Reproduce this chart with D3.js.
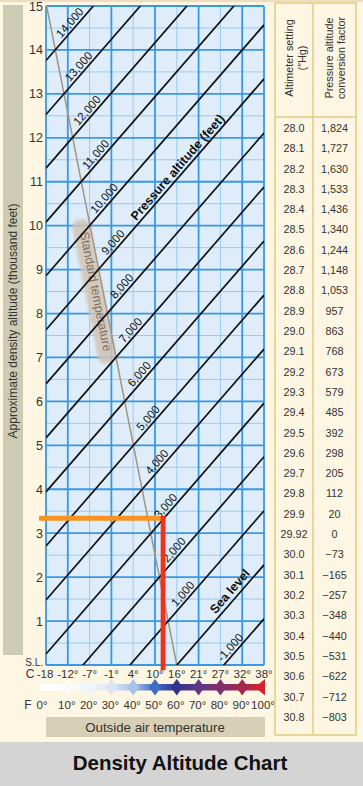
<!DOCTYPE html>
<html>
<head>
<meta charset="utf-8">
<script src="https://cdn.jsdelivr.net/npm/d3@7"></script>
<style>
  body { margin: 0; background: #fdf6e3; }
  svg { display: block; font-family: "Liberation Sans", Arial, sans-serif; }
</style>
</head>
<body>
<div class="d3Chart"></div>
<script>
//#region data

// pressure altitude lines (ft) and the density altitude (thousand ft) where each meets the 0°F and 100°F edges
var pressureAlts = [-1000, 0, 1000, 2000, 3000, 4000, 5000, 6000, 7000, 8000, 9000, 10000, 11000, 12000, 13000, 14000];
var densityAt0F = [-4.66, -3.43, -2.2, -0.97, 0.25, 1.48, 2.71, 3.94, 5.17, 6.4, 7.63, 8.86, 10.08, 11.31, 12.53, 13.76];
var densityAt100F = [1.05, 2.28, 3.51, 4.74, 5.96, 7.19, 8.42, 9.65, 10.88, 12.11, 13.34, 14.57, 15.79, 17.02, 18.24, 19.47];

// standard temperature line, [°F, thousand ft]
var stdTemp = [[60, 0], [0.3, 15]];

// worked example: OAT and resulting density altitude
var exampleOAT = 53.7;
var exampleDA = 3.34;

var altitudeTicks = d3.range(0, 16);
var fahrenheitTicks = [0, 10, 20, 30, 40, 50, 60, 70, 80, 90, 100];
var celsiusLabels = ["-18", "-12°", "-7°", "-1°", "4°", "10°", "16°", "21°", "27°", "32°", "38°"];

// colour of the temperature bar at each °F tick
var barColors = ["#ffffff", "#fbfcfe", "#f1f5fb", "#dbe5f4", "#a9c3ea", "#3f6cc7", "#34338b", "#5e3683", "#7f2f6c", "#a2294b", "#d3242d"];

var altimeterSettings = ["28.0", "28.1", "28.2", "28.3", "28.4", "28.5", "28.6", "28.7", "28.8", "28.9",
  "29.0", "29.1", "29.2", "29.3", "29.4", "29.5", "29.6", "29.7", "29.8", "29.9", "29.92",
  "30.0", "30.1", "30.2", "30.3", "30.4", "30.5", "30.6", "30.7", "30.8"];
var conversionFactors = [1824, 1727, 1630, 1533, 1436, 1340, 1244, 1148, 1053, 957,
  863, 768, 673, 579, 485, 392, 298, 205, 112, 20, 0,
  -73, -165, -257, -348, -440, -531, -622, -712, -803];

//#endregion

//#region canvas

var width = 363;
var height = 786;
var svg = d3
  .select(".d3Chart")
  .append("svg")
  .attr("width", width)
  .attr("height", height)
  .style("background-color", "#fdf6e3");

svg.append("rect").attr("x", 0).attr("y", 0).attr("width", width).attr("height", 2).attr("fill", "#ecdcc0");

var x = d3.scaleLinear().domain([0, 100]).range([46, 264]);
var y = d3.scaleLinear().domain([0, 15]).range([665, 6]);

var defs = svg.append("defs");
defs.append("clipPath").attr("id", "plotClip")
  .append("rect")
  .attr("x", x(0)).attr("y", y(15))
  .attr("width", x(100) - x(0)).attr("height", y(0) - y(15));
defs.append("filter").attr("id", "soft")
  .append("feGaussianBlur").attr("stdDeviation", 1.6);

//#endregion

//#region grid

svg.append("rect")
  .attr("x", x(0)).attr("y", y(15))
  .attr("width", x(100) - x(0)).attr("height", y(0) - y(15))
  .attr("fill", "#deedf9");

var grid = svg.append("g");
var minorColor = "#9bcbf0";
var majorColor = "#3799e4";

grid.selectAll(".hminor").data(d3.range(0.5, 15, 1)).enter().append("line")
  .attr("x1", x(0)).attr("x2", x(100))
  .attr("y1", (d) => y(d)).attr("y2", (d) => y(d))
  .attr("stroke", minorColor).attr("stroke-width", 1);
grid.selectAll(".vminor").data([20, 40, 60, 80]).enter().append("line")
  .attr("x1", (d) => x(d)).attr("x2", (d) => x(d))
  .attr("y1", y(0)).attr("y2", y(15))
  .attr("stroke", minorColor).attr("stroke-width", 1);
grid.selectAll(".hmajor").data(altitudeTicks).enter().append("line")
  .attr("x1", x(0)).attr("x2", x(100))
  .attr("y1", (d) => y(d)).attr("y2", (d) => y(d))
  .attr("stroke", majorColor).attr("stroke-width", 1.8);
grid.selectAll(".vmajor").data([0, 10, 30, 50, 70, 90, 100]).enter().append("line")
  .attr("x1", (d) => x(d)).attr("x2", (d) => x(d))
  .attr("y1", y(0)).attr("y2", y(15))
  .attr("stroke", majorColor).attr("stroke-width", 1.8);

//#endregion

//#region standard temperature

var stdAngle = Math.atan2(y(stdTemp[1][1]) - y(stdTemp[0][1]), x(stdTemp[1][0]) - x(stdTemp[0][0])) * 180 / Math.PI + 180;
var stdAt = function (alt) {
  var t = stdTemp[0][0] + (stdTemp[1][0] - stdTemp[0][0]) * (alt - stdTemp[0][1]) / (stdTemp[1][1] - stdTemp[0][1]);
  return [x(t), y(alt)];
};
var stdLabelPos = stdAt(8.5);

svg.append("rect")
  .attr("x", -73).attr("y", -9).attr("width", 146).attr("height", 18).attr("rx", 6)
  .attr("fill", "#d0c4b5").attr("opacity", 0.85)
  .attr("filter", "url(#soft)")
  .attr("transform", `translate(${stdLabelPos[0] - 9},${stdLabelPos[1]}) rotate(${stdAngle})`);

svg.append("text")
  .text("Standard temperature")
  .attr("text-anchor", "middle").attr("dy", "0.35em")
  .attr("font-size", 12.5).attr("fill", "#86705d")
  .attr("transform", `translate(${stdLabelPos[0] - 7},${stdLabelPos[1]}) rotate(${stdAngle})`);

svg.append("line")
  .attr("x1", x(stdTemp[0][0])).attr("y1", y(stdTemp[0][1]))
  .attr("x2", x(stdTemp[1][0])).attr("y2", y(stdTemp[1][1]))
  .attr("stroke", "#a39483").attr("stroke-width", 1.5);

//#endregion

//#region pressure altitude lines

var lineData = pressureAlts.map((p, i) => ({ p: p, d0: densityAt0F[i], d100: densityAt100F[i] }));

svg.append("g").attr("clip-path", "url(#plotClip)")
  .selectAll("line").data(lineData).enter().append("line")
  .attr("x1", x(0)).attr("y1", (d) => y(d.d0))
  .attr("x2", x(100)).attr("y2", (d) => y(d.d100))
  .attr("stroke", "#111").attr("stroke-width", 1.7);

// point on a pressure line at a given density altitude, pushed off the line by `off` px
function onLine(d, da, off) {
  var t = (da - d.d0) / (d.d100 - d.d0) * 100;
  var px = x(t), py = y(da);
  var ang = Math.atan2(y(d.d100) - y(d.d0), x(100) - x(0));
  return {
    x: px + Math.sin(ang) * off,
    y: py - Math.cos(ang) * off,
    angle: ang * 180 / Math.PI,
  };
}

svg.append("g").selectAll("text")
  .data(lineData.filter((d) => d.p !== 0)).enter().append("text")
  .text((d) => d3.format(",")(d.p).replace("−", "-"))
  .attr("text-anchor", "middle").attr("dy", "0.35em")
  .attr("font-size", 11.5).attr("fill", "#111")
  .attr("transform", (d) => {
    var pos = onLine(d, Math.max(d.p / 1000 + 0.52, 0.3), 7);
    return `translate(${pos.x},${pos.y}) rotate(${pos.angle})`;
  });

var seaPos = onLine(lineData[1], 1.55, 8.5);
svg.append("text").text("Sea level")
  .attr("text-anchor", "middle").attr("dy", "0.35em")
  .attr("font-size", 12.5).attr("font-weight", "bold").attr("fill", "#111")
  .attr("transform", `translate(${seaPos.x},${seaPos.y}) rotate(${seaPos.angle})`);

var paPos = onLine(lineData[10], 11.22, 7.5);
svg.append("text").text("Pressure altitude (feet)")
  .attr("text-anchor", "middle").attr("dy", "0.35em")
  .attr("font-size", 12.5).attr("font-weight", "bold").attr("fill", "#111")
  .attr("transform", `translate(${paPos.x},${paPos.y}) rotate(${paPos.angle})`);

//#endregion

//#region example

svg.append("line")
  .attr("x1", x(-3.2)).attr("x2", x(exampleOAT) + 2.4)
  .attr("y1", y(exampleDA)).attr("y2", y(exampleDA))
  .attr("stroke", "#f7931e").attr("stroke-width", 5);
svg.append("line")
  .attr("x1", x(exampleOAT)).attr("x2", x(exampleOAT))
  .attr("y1", y(exampleDA) - 2.5).attr("y2", y(-0.12))
  .attr("stroke", "#f0321c").attr("stroke-width", 4.8);

//#endregion

//#region axes

svg.append("rect").attr("x", 3).attr("y", 5).attr("width", 20).attr("height", 650).attr("fill", "#cdccb2");
svg.append("text")
  .text("Approximate density altitude (thousand feet)")
  .attr("text-anchor", "middle").attr("dy", "0.35em")
  .attr("font-size", 12).attr("fill", "#333")
  .attr("transform", "translate(13,321) rotate(-90)");

svg.append("g").selectAll("text").data(altitudeTicks.filter((d) => d > 0)).enter().append("text")
  .text((d) => d)
  .attr("x", 43).attr("y", (d) => y(d)).attr("dy", "0.36em")
  .attr("text-anchor", "end").attr("font-size", 12.5).attr("fill", "#333");
svg.append("text").text("S.L.")
  .attr("x", 43).attr("y", y(0)).attr("dy", "0.1em")
  .attr("text-anchor", "end").attr("font-size", 10).attr("fill", "#333");

svg.append("text").text("C").attr("x", 30).attr("y", 677.5).attr("text-anchor", "middle").attr("font-size", 12).attr("fill", "#333");
svg.append("text").text("F").attr("x", 28).attr("y", 709).attr("text-anchor", "middle").attr("font-size", 12).attr("fill", "#333");

svg.append("g").selectAll("text").data(fahrenheitTicks).enter().append("text")
  .text((d, i) => celsiusLabels[i])
  .attr("x", (d, i) => (i === 0 ? x(d) - 1 : x(d))).attr("y", 677.5)
  .attr("text-anchor", "middle").attr("font-size", 11.5).attr("fill", "#333");
svg.append("g").selectAll("text").data(fahrenheitTicks).enter().append("text")
  .text((d) => d + "°")
  .attr("x", (d, i) => (i === 0 ? x(d) - 4 : x(d) - 1)).attr("y", 709)
  .attr("text-anchor", "middle").attr("font-size", 11.5).attr("fill", "#333");

// temperature colour bar
var barColor = d3.scaleLinear().domain(fahrenheitTicks).range(barColors);
var grad = defs.append("linearGradient").attr("id", "tempGrad")
  .attr("gradientUnits", "userSpaceOnUse")
  .attr("x1", x(0) - 6).attr("x2", x(100)).attr("y1", 0).attr("y2", 0);
grad.selectAll("stop").data(fahrenheitTicks).enter().append("stop")
  .attr("offset", (d) => (x(d) - x(0) + 6) / (x(100) - x(0) + 6))
  .attr("stop-color", (d) => barColor(d));

svg.append("rect")
  .attr("x", x(0) - 6).attr("y", 684).attr("width", x(100) - x(0) + 4).attr("height", 6.5)
  .attr("fill", "url(#tempGrad)");
svg.append("g").selectAll("path").data(fahrenheitTicks.slice(1, -1)).enter().append("path")
  .attr("d", (d) => `M${x(d) - 6},687.3 L${x(d)},679 L${x(d) + 6},687.3 L${x(d)},695.6 Z`)
  .attr("fill", (d) => barColor(d));
svg.append("path")
  .attr("d", `M${x(100) - 9},687.3 L${x(100) + 1},679 L${x(100) + 1},695.6 Z`)
  .attr("fill", barColor(100));

svg.append("rect").attr("x", 46).attr("y", 717).attr("width", 219).attr("height", 20).attr("fill", "#d8cfb7");
svg.append("text").text("Outside air temperature")
  .attr("x", 155).attr("y", 727).attr("dy", "0.36em")
  .attr("text-anchor", "middle").attr("font-size", 13.3).attr("fill", "#333");

//#endregion

//#region table

var table = svg.append("g");
var tableLine = "#e2cd82";
table.append("rect")
  .attr("x", 275).attr("y", 3).attr("width", 81).attr("height", 732)
  .attr("fill", "none").attr("stroke", tableLine).attr("stroke-width", 1.5);
table.append("line").attr("x1", 313).attr("x2", 313).attr("y1", 3).attr("y2", 735)
  .attr("stroke", tableLine).attr("stroke-width", 1.5);
table.append("line").attr("x1", 275).attr("x2", 356).attr("y1", 117).attr("y2", 117)
  .attr("stroke", tableLine).attr("stroke-width", 1.5);

var headers = [
  { x: 289, text: "Altimeter setting" },
  { x: 302, text: "(″Hg)" },
  { x: 329, text: "Pressure altitude" },
  { x: 341.5, text: "conversion factor" },
];
table.selectAll(".head").data(headers).enter().append("text")
  .text((d) => d.text)
  .attr("text-anchor", "middle").attr("dy", "0.35em")
  .attr("font-size", 10.8).attr("fill", "#333")
  .attr("transform", (d) => `translate(${d.x},58) rotate(-90)`);

var rowY = d3.scalePoint().domain(altimeterSettings).range([128, 717]);
table.selectAll(".setting").data(altimeterSettings).enter().append("text")
  .text((d) => d)
  .attr("x", 294).attr("y", (d) => rowY(d)).attr("dy", "0.36em")
  .attr("text-anchor", "middle").attr("font-size", 10.8).attr("fill", "#333");
table.selectAll(".factor").data(conversionFactors).enter().append("text")
  .text((d) => d3.format(",")(d))
  .attr("x", 334.5).attr("y", (d, i) => rowY(altimeterSettings[i])).attr("dy", "0.36em")
  .attr("text-anchor", "middle").attr("font-size", 10.8).attr("fill", "#333");

//#endregion

//#region title

svg.append("rect").attr("x", 0).attr("y", 742).attr("width", width).attr("height", 44).attr("fill", "#d4d4d4");
svg.append("text").text("Density Altitude Chart")
  .attr("x", 180).attr("y", 770)
  .attr("text-anchor", "middle").attr("font-size", 20.5).attr("font-weight", "bold").attr("fill", "#111");

//#endregion
</script>
</body>
</html>
